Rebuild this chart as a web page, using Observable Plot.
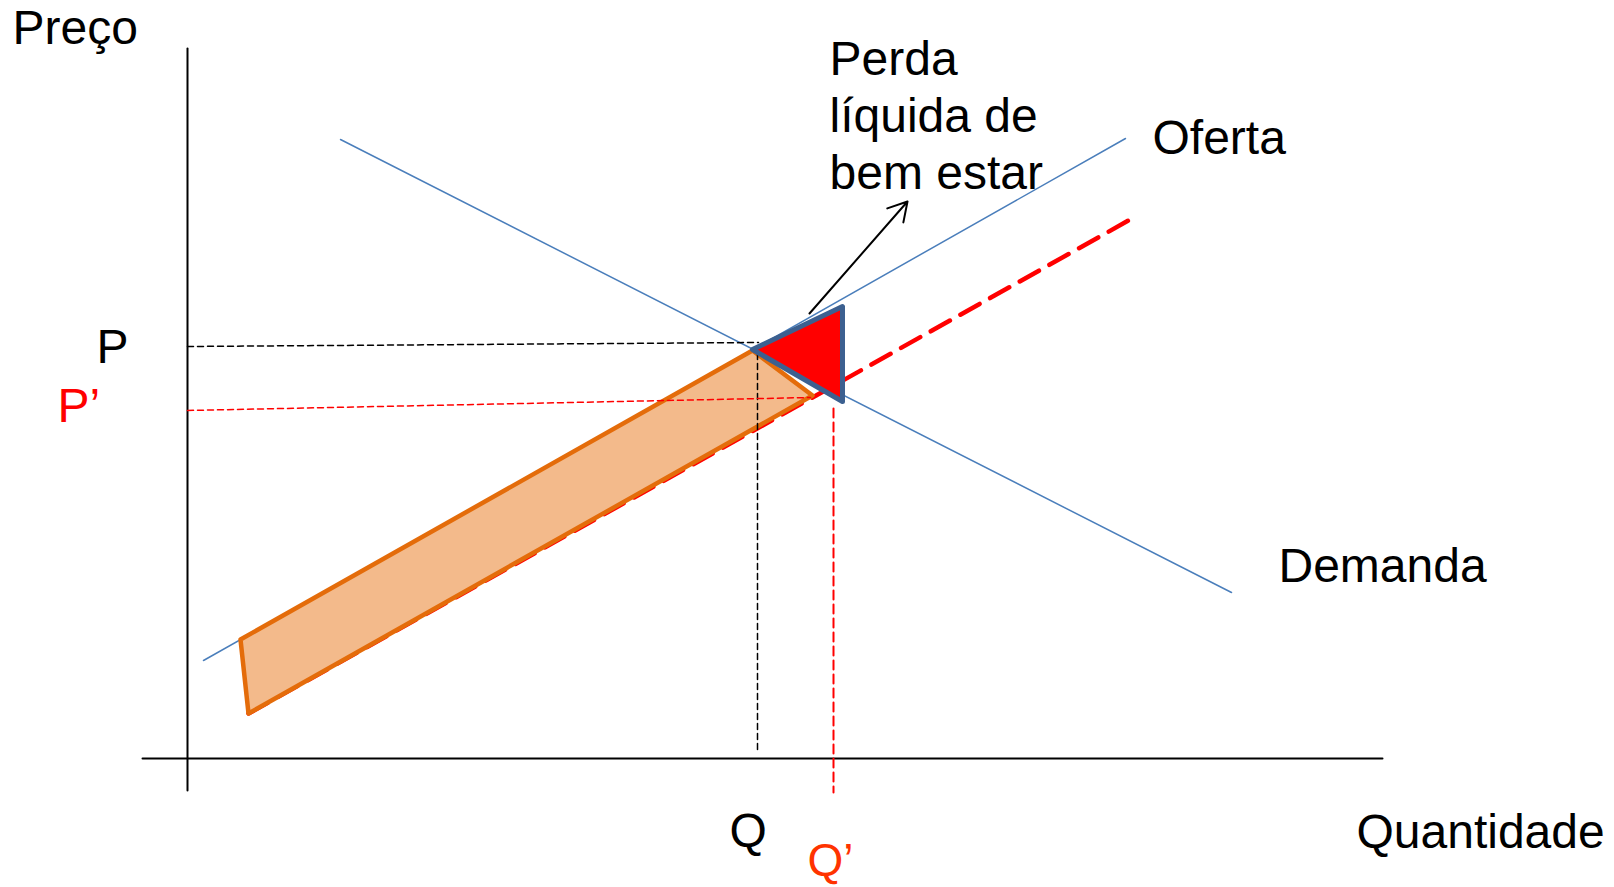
<!DOCTYPE html>
<html>
<head>
<meta charset="utf-8">
<script src="https://cdn.jsdelivr.net/npm/d3@7"></script>
<script src="https://cdn.jsdelivr.net/npm/@observablehq/plot@0.6"></script>
<style>
  html, body { margin: 0; padding: 0; background: #fff; overflow: hidden; }
  svg { display: block; }
</style>
</head>
<body>
<div id="chart"></div>
<script>
// Units: quantity (q) and price (p), origin at the axes crossing.
const axisY = [{q: 0, p: -0.64}, {q: 0, p: 14.2}];
const axisX = [{q: -0.9, p: 0}, {q: 23.9, p: 0}];
const demanda = [{q: 3.06, p: 12.38}, {q: 20.88, p: 3.32}];
const oferta = [{q: 0.32, p: 1.96}, {q: 18.76, p: 12.40}];
const ofertaNova = [{q: 1.22, p: 0.90}, {q: 18.82, p: 10.76}];
const guiaP = [{q: 0, p: 8.24}, {q: 11.42, p: 8.32}];
const guiaP2 = [{q: 0, p: 6.96}, {q: 12.46, p: 7.22}];
const guiaQ = [{q: 11.4, p: 8.1}, {q: 11.4, p: 0.16}];
const guiaQ2 = [{q: 12.92, p: 7.0}, {q: 12.92, p: -0.68}];
const areaImposto = [{q: 1.06, p: 2.38}, {q: 11.3, p: 8.16}, {q: 12.5, p: 7.26}, {q: 1.22, p: 0.90}];
const perdaLiquida = [{q: 11.3, p: 8.18}, {q: 13.1, p: 9.04}, {q: 13.1, p: 7.14}];
const seta = [{q1: 12.44, p1: 8.9, q2: 14.4, p2: 11.14}];
const rotulosPretos = [
  {q: -3.5, p: 14.3, t: "Preço"},
  {q: -1.82, p: 7.92, t: "P"},
  {q: 10.84, p: -1.76, t: "Q"},
  {q: 12.84, p: 11.4, t: "Perda\nlíquida de\nbem estar"},
  {q: 19.3, p: 12.1, t: "Oferta"},
  {q: 21.82, p: 3.54, t: "Demanda"},
  {q: 23.38, p: -1.78, t: "Quantidade"}
];
const rotuloP2 = [{q: -2.6, p: 6.74, t: "P’"}];
const rotuloQ2 = [{q: 12.4, p: -2.34, t: "Q’"}];

const W = 1614, H = 887;
const chart = Plot.plot({
  width: W, height: H,
  margin: 0,
  style: {fontFamily: "'Liberation Sans', Arial, sans-serif", background: "#fff"},
  x: {domain: [-187 / 50, (W - 187) / 50], range: [0, W], axis: null},
  y: {domain: [(758 - H) / 50, 758 / 50], range: [H, 0], axis: null},
  marks: [
    Plot.line(axisY, {x: "q", y: "p", stroke: "#000", strokeWidth: 2}),
    Plot.line(axisX, {x: "q", y: "p", stroke: "#000", strokeWidth: 2}),
    Plot.line(oferta, {x: "q", y: "p", stroke: "#4A7EBB", strokeWidth: 1.5}),
    Plot.line(demanda, {x: "q", y: "p", stroke: "#4A7EBB", strokeWidth: 1.5}),
    Plot.line(ofertaNova, {x: "q", y: "p", stroke: "#FF0000", strokeWidth: 4.5, strokeDasharray: "22,12"}),
    Plot.line(areaImposto, {x: "q", y: "p", curve: "linear-closed", fill: "#F3BA8B", stroke: "#E46C0A", strokeWidth: 4.5, strokeLinejoin: "round"}),
    Plot.line(guiaP, {x: "q", y: "p", stroke: "#000", strokeWidth: 1.5, strokeDasharray: "6,4"}),
    Plot.line(guiaQ, {x: "q", y: "p", stroke: "#000", strokeWidth: 1.5, strokeDasharray: "6,4"}),
    Plot.line(guiaP2, {x: "q", y: "p", stroke: "#FF0000", strokeWidth: 1.5, strokeDasharray: "6,4"}),
    Plot.line(guiaQ2, {x: "q", y: "p", stroke: "#FF0000", strokeWidth: 2, strokeDasharray: "9,5"}),
    Plot.line(perdaLiquida, {x: "q", y: "p", curve: "linear-closed", fill: "#FF0000", stroke: "#3C6090", strokeWidth: 5, strokeLinejoin: "round"}),
    Plot.arrow(seta, {x1: "q1", y1: "p1", x2: "q2", y2: "p2", stroke: "#000", strokeWidth: 2, headLength: 16}),
    Plot.text(rotulosPretos, {x: "q", y: "p", text: "t", fontSize: 48, fill: "#000", textAnchor: "start", lineAnchor: "bottom", lineHeight: 1.18}),
    Plot.text(rotuloP2, {x: "q", y: "p", text: "t", fontSize: 48, fill: "#FF0000", textAnchor: "start", lineAnchor: "bottom"}),
    Plot.text(rotuloQ2, {x: "q", y: "p", text: "t", fontSize: 46, fill: "#FF3300", textAnchor: "start", lineAnchor: "bottom"})
  ]
});
document.getElementById("chart").appendChild(chart);
</script>
</body>
</html>
